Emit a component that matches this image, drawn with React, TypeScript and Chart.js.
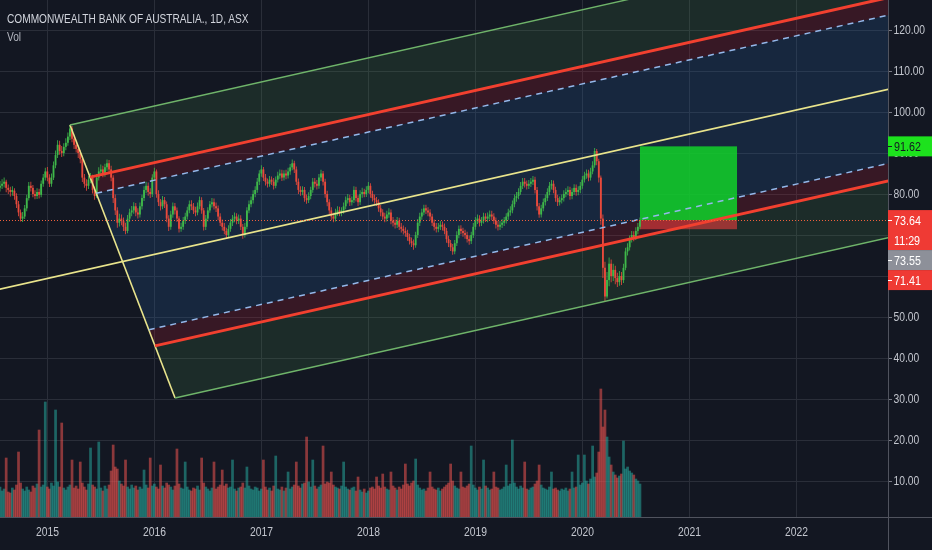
import React, { useEffect, useRef } from 'react';
import { Chart, registerables } from 'chart.js';

Chart.register(...registerables);

// ---------- text ----------
const TITLE = 'COMMONWEALTH BANK OF AUSTRALIA., 1D, ASX';
const VOL_LABEL = 'Vol';
const COUNTDOWN = '11:29';

// ---------- time base (weekly bars, decimal years) ----------
const FIRST_WEEK = 2014.556;
const WEEKS_PER_YEAR = 52;
const FIRST_OPEN = 81.5;

// ---------- weekly closes ----------
const close2014 = [82, 82.5, 83, 81.5, 81, 80.5, 80.8, 79.5, 77.5, 75.5, 74, 74.5, 76.5, 79, 82, 81.5, 80, 79.5, 80.5, 79.8, 82.5, 84, 85.5];
const close2015 = [84, 82.5, 84, 87, 89.5, 92, 90.5, 90, 91.5, 92.5, 94, 96, 93.5, 92, 91, 90, 88.5, 84, 82.5, 82, 83.5, 84, 81, 79.5, 84, 85.5, 86, 85, 86.5, 87.5, 86, 84, 79, 76, 73, 74, 73.5, 72, 71, 74, 75.5, 76, 77, 75.5, 75, 77, 79, 81, 82, 80.5, 80, 84];
const close2016 = [85.5, 80, 78, 77, 78.5, 77.5, 74, 72, 75, 77, 76, 74, 71.5, 72, 73.5, 74.5, 76, 77.5, 77, 76, 75.5, 77, 78.5, 76, 72, 74, 76, 77.5, 78, 77, 76.5, 74.5, 73, 72, 71, 70, 71.5, 73, 74, 74.5, 73.5, 74, 72, 70, 72, 76, 77.5, 78.5, 80, 81, 83, 85];
const close2017 = [86, 84, 83, 82.5, 83.5, 83, 82, 83.5, 84.5, 85, 84, 85, 84.5, 85.5, 86.5, 87.5, 86, 83, 81, 80.5, 81, 79, 78.5, 79.5, 81, 83, 82.5, 82, 84, 85, 83, 80, 78, 76, 74.5, 74, 75.5, 76, 75.5, 76, 77, 78.5, 79, 78, 78.5, 81, 79, 78, 80, 80.5, 80, 81];
const close2018 = [82, 80, 79, 78.5, 78, 76.5, 75.5, 74.5, 74, 75, 75.5, 73.5, 73, 72.5, 73.5, 72, 71.5, 71, 70.5, 69.5, 68.5, 68, 67.5, 70, 73, 74.5, 75.5, 76.5, 76, 75.5, 74.5, 73, 72, 71.5, 72, 72.5, 72, 71, 69, 68, 67, 66, 68, 70, 71.5, 71, 70.5, 70, 69, 68.5, 70, 72];
const close2019 = [73.5, 74, 73, 73.5, 74.5, 74, 74.5, 75, 74.5, 73.5, 72.5, 72, 72.5, 73, 73.5, 74.5, 75.5, 76, 77.5, 79, 79.5, 80.5, 82, 83, 82.5, 82, 82.5, 83, 83.5, 81, 77, 75, 76.5, 78, 79, 80.5, 82, 82.5, 81, 79, 78, 78.5, 79, 80, 80.5, 81, 79.5, 80.5, 81.5, 80.5, 81, 82];
const close2020 = [83.5, 84.5, 85, 84, 85.5, 87, 90.5, 88, 84, 74, 62, 55, 59, 63, 60, 61.5, 59.5, 58.5, 60, 59, 62, 66, 67, 69, 70, 69.5, 71, 72, 73.64];

// ---------- weekly highs / lows ----------
const hi2014 = [83.2, 83.6, 84.0, 83.5, 82.3, 81.8, 81.9, 81.4, 80.2, 78.3, 76.2, 75.6, 77.3, 79.8, 82.9, 83.0, 82.2, 80.9, 81.4, 81.3, 83.3, 84.9, 86.4];
const lo2014 = [80.6, 81.2, 81.6, 80.4, 80.0, 79.4, 79.6, 78.6, 76.6, 74.6, 73.3, 73.2, 73.9, 75.8, 78.4, 80.6, 79.2, 78.7, 78.8, 78.9, 79.2, 81.8, 83.3];
const hi2015 = [86.6, 84.8, 85.0, 87.9, 90.6, 93.1, 93.0, 91.7, 92.4, 93.6, 95.0, 96.9, 96.6, 94.3, 93.0, 91.9, 90.7, 89.2, 84.9, 83.6, 84.4, 85.1, 84.7, 81.8, 84.9, 86.5, 87.2, 86.9, 87.4, 88.4, 88.3, 86.9, 84.6, 79.9, 76.8, 75.2, 75.0, 74.3, 73.0, 74.9, 76.4, 77.1, 78.0, 77.8, 76.5, 77.9, 79.8, 81.9, 83.0, 82.8, 81.4, 84.8];
const lo2015 = [83.1, 81.7, 81.8, 83.4, 86.3, 88.8, 89.6, 89.0, 89.2, 90.7, 91.8, 93.2, 92.6, 91.0, 90.1, 88.8, 87.5, 82.9, 81.5, 80.8, 81.2, 82.6, 80.1, 78.6, 79.0, 83.3, 84.6, 84.1, 84.2, 85.7, 85.0, 83.1, 77.8, 74.9, 71.8, 72.1, 72.4, 71.0, 70.2, 70.4, 73.2, 74.6, 75.2, 74.6, 74.0, 74.3, 76.2, 78.3, 80.2, 79.6, 79.0, 79.3];
const hi2016 = [86.4, 86.0, 80.9, 78.8, 79.5, 79.3, 78.2, 74.8, 75.9, 77.9, 77.8, 76.7, 74.6, 73.0, 74.4, 75.4, 76.9, 78.4, 78.5, 77.8, 76.9, 77.9, 79.4, 79.2, 76.6, 74.9, 76.8, 78.3, 79.0, 78.9, 77.9, 77.2, 75.3, 73.8, 72.9, 71.8, 72.4, 73.9, 74.9, 75.5, 75.3, 75.0, 74.8, 72.7, 72.9, 76.8, 78.4, 79.4, 80.9, 81.9, 83.9, 85.8];
const lo2016 = [83.3, 79.1, 77.1, 76.0, 76.3, 76.6, 73.1, 71.0, 71.3, 74.2, 75.0, 73.2, 70.6, 70.8, 71.3, 72.7, 73.8, 75.3, 76.1, 75.1, 74.6, 74.8, 76.3, 75.2, 71.1, 71.2, 73.3, 75.4, 76.7, 76.2, 75.6, 73.6, 72.2, 71.1, 70.2, 69.2, 69.3, 70.8, 72.2, 73.1, 72.6, 72.7, 71.2, 69.1, 69.4, 71.4, 75.3, 76.8, 77.7, 79.2, 80.3, 82.2];
const hi2017 = [87.0, 86.6, 84.9, 83.8, 84.4, 84.3, 83.9, 84.3, 85.4, 86.0, 85.9, 85.8, 85.9, 86.4, 87.3, 88.4, 88.1, 86.7, 83.8, 81.9, 81.9, 81.7, 79.9, 80.4, 81.8, 83.9, 83.9, 83.4, 84.9, 85.9, 85.6, 83.7, 80.8, 78.7, 76.8, 75.4, 76.4, 77.0, 76.9, 76.8, 77.9, 79.4, 80.0, 79.8, 79.4, 81.9, 81.8, 79.7, 80.9, 81.5, 81.3, 81.9];
const lo2017 = [84.2, 83.2, 82.1, 81.6, 81.8, 82.2, 81.1, 81.4, 82.8, 83.7, 83.2, 83.3, 83.6, 83.8, 84.7, 85.8, 85.1, 82.2, 80.0, 79.6, 79.7, 78.1, 77.6, 77.8, 78.7, 80.3, 81.6, 81.1, 81.3, 83.2, 82.1, 79.1, 77.0, 75.1, 73.6, 73.1, 73.3, 74.7, 74.6, 74.6, 75.2, 76.3, 77.7, 77.1, 77.2, 77.8, 78.2, 77.1, 77.3, 79.1, 79.2, 79.3];
const hi2018 = [82.9, 82.6, 80.8, 79.9, 79.3, 78.7, 77.3, 76.3, 75.4, 75.9, 76.5, 76.2, 74.4, 73.8, 74.4, 74.2, 72.9, 72.3, 71.9, 71.3, 70.3, 69.4, 68.9, 70.8, 73.9, 75.4, 76.4, 77.4, 77.4, 76.8, 76.3, 75.2, 73.8, 72.9, 72.9, 73.4, 73.3, 72.8, 71.7, 69.8, 68.8, 67.8, 68.8, 70.9, 72.3, 72.4, 71.8, 71.3, 70.8, 69.9, 70.8, 72.9];
const lo2018 = [80.2, 79.1, 78.2, 77.6, 77.1, 75.7, 74.6, 73.7, 73.1, 73.3, 74.2, 72.6, 72.1, 71.6, 71.7, 71.2, 70.6, 70.1, 69.6, 68.6, 67.7, 67.1, 66.4, 66.9, 69.3, 72.2, 73.7, 74.8, 75.1, 74.6, 73.6, 72.2, 71.1, 70.6, 70.7, 71.2, 71.1, 70.2, 68.1, 67.1, 66.1, 65.2, 65.3, 67.3, 69.2, 70.2, 69.6, 69.1, 68.2, 67.6, 67.8, 69.3];
const hi2019 = [74.4, 75.0, 74.8, 74.4, 75.4, 75.3, 75.5, 76.0, 75.9, 75.3, 74.3, 73.4, 73.4, 73.9, 74.4, 75.3, 76.4, 77.0, 78.4, 79.9, 80.5, 81.4, 82.9, 83.9, 83.9, 83.3, 83.4, 83.9, 84.4, 84.2, 81.7, 77.8, 77.4, 78.9, 79.9, 81.4, 82.9, 83.4, 83.3, 81.8, 79.8, 79.4, 79.9, 80.9, 81.4, 81.9, 81.8, 81.4, 82.4, 82.3, 81.9, 82.9];
const lo2019 = [71.3, 72.7, 72.1, 72.2, 72.8, 73.2, 73.1, 73.7, 73.6, 72.7, 71.6, 71.1, 71.2, 71.7, 72.2, 72.8, 73.7, 74.7, 75.3, 76.8, 78.1, 78.7, 79.8, 81.2, 81.6, 81.1, 81.2, 81.7, 82.2, 80.1, 76.0, 74.2, 74.3, 75.8, 77.2, 78.3, 79.7, 81.1, 80.2, 78.1, 77.1, 77.2, 77.7, 78.2, 79.2, 79.7, 78.6, 78.7, 79.8, 79.6, 79.7, 80.2];
const hi2020 = [84.4, 85.4, 86.0, 85.9, 86.4, 88.0, 91.2, 91.0, 88.6, 84.5, 75.0, 63.5, 61.0, 64.5, 64.0, 63.0, 62.5, 60.8, 61.2, 61.0, 63.0, 66.9, 68.0, 69.9, 71.0, 70.9, 71.9, 72.9, 74.3];
const lo2020 = [81.3, 82.8, 83.7, 83.1, 83.3, 84.8, 86.4, 87.0, 82.8, 72.5, 59.5, 53.7, 54.5, 57.5, 58.5, 58.8, 58.0, 57.3, 57.6, 57.8, 58.3, 61.4, 65.0, 66.2, 68.2, 68.5, 68.8, 70.2, 71.4];

// ---------- weekly volume (millions) ----------
const vol2014 = [3.0, 2.6, 2.8, 5.9, 2.5, 2.4, 2.9, 2.7, 3.2, 6.5, 3.4, 2.8, 2.6, 3.0, 2.7, 2.5, 3.1, 2.9, 3.3, 8.7, 3.0, 3.2, 11.5];
const vol2015 = [3.0, 2.8, 3.4, 3.1, 10.7, 3.5, 3.0, 9.4, 2.9, 2.7, 3.0, 3.2, 5.7, 2.9, 3.1, 2.8, 5.5, 3.4, 3.0, 2.7, 3.3, 6.9, 3.2, 3.0, 2.8, 7.5, 2.9, 2.6, 3.1, 2.8, 3.2, 4.6, 7.2, 5.0, 4.8, 3.6, 3.3, 3.1, 5.7, 3.0, 2.8, 3.2, 2.9, 3.1, 2.7, 3.0, 2.8, 4.7, 3.2, 2.9, 5.9, 3.1];
const vol2016 = [3.3, 3.0, 2.8, 5.2, 3.1, 2.9, 3.4, 3.2, 3.0, 2.7, 3.1, 6.8, 3.3, 2.9, 2.8, 5.5, 3.0, 2.7, 2.6, 2.9, 2.8, 3.1, 2.7, 5.9, 3.4, 3.0, 2.8, 2.6, 2.9, 5.5, 2.8, 3.0, 3.2, 4.7, 3.1, 3.3, 2.9, 3.0, 5.7, 2.8, 2.6, 2.9, 3.0, 3.4, 2.9, 5.0, 3.1, 2.8, 2.7, 3.0, 2.9, 2.6];
const vol2017 = [2.8, 5.7, 3.0, 2.7, 2.9, 2.6, 3.1, 6.1, 2.8, 2.7, 3.0, 2.6, 2.9, 4.5, 2.8, 3.0, 3.2, 5.5, 3.1, 2.9, 3.3, 3.4, 8.0, 3.5, 3.0, 5.7, 3.1, 2.8, 3.0, 3.2, 7.1, 3.3, 3.5, 3.4, 4.5, 3.2, 3.0, 2.9, 2.8, 3.1, 5.5, 3.0, 2.8, 2.7, 2.9, 3.0, 2.6, 4.0, 2.7, 2.5, 2.8, 2.4];
const vol2018 = [2.6, 2.9, 3.0, 2.8, 4.0, 3.1, 2.9, 4.3, 3.0, 2.8, 2.7, 4.5, 3.1, 2.9, 2.7, 3.0, 2.8, 3.2, 5.3, 3.3, 3.1, 3.4, 3.6, 5.8, 3.2, 2.9, 2.7, 2.8, 2.6, 2.9, 4.5, 3.0, 2.8, 2.7, 2.9, 2.6, 2.8, 3.0, 3.2, 3.4, 5.3, 3.6, 3.1, 2.9, 2.8, 4.5, 3.0, 2.9, 3.1, 3.3, 7.1, 3.2];
const vol2019 = [2.9, 2.7, 3.0, 2.8, 5.7, 3.1, 2.9, 2.7, 2.8, 4.5, 3.0, 2.9, 2.7, 2.8, 3.0, 5.2, 3.1, 3.3, 7.7, 3.4, 3.0, 2.8, 3.1, 2.9, 5.5, 2.8, 2.7, 2.9, 3.0, 3.3, 3.6, 5.2, 3.2, 2.9, 2.8, 2.7, 3.0, 4.5, 2.8, 2.9, 2.7, 2.6, 2.8, 2.7, 2.9, 2.6, 2.8, 4.5, 2.9, 3.0, 6.2, 3.2];
const vol2020 = [3.4, 6.2, 3.6, 3.3, 3.8, 7.1, 4.0, 4.4, 6.5, 12.8, 9.0, 10.7, 8.0, 6.0, 5.2, 4.5, 4.2, 3.9, 4.1, 4.3, 7.6, 4.8, 5.0, 4.6, 4.4, 4.2, 3.8, 3.6, 3.3];

// ---------- axes ----------
const YEAR_TICKS = [2015, 2016, 2017, 2018, 2019, 2020, 2021, 2022];
const PRICE_TICKS = [10, 20, 30, 40, 50, 60, 70, 80, 90, 100, 110, 120];
const X_MIN = 2014.556;
const X_MAX = 2022.855;
const Y_MIN = 1.22;
const Y_MAX = 127.32;
const VOL_MAX = 51.7;

// ---------- drawings (anchor points in year / price) ----------
const PF_A = { x: 2015.21, y: 96.83 };
const PF_B = { x: 2016.192, y: 30.24 };
const PF_SLOPE = 5.87; // price per year
const PF_MEDIAN_FROM = 2013.8;
const PF_EXTEND_TO = 2023.6;

const POSITION = { start: 2020.537, end: 2021.444, entry: 73.64, target: 91.62, stop: 71.41 };
const LAST_PRICE = 73.64;
const PRICE_LABELS = [
  { value: 91.62, text: '91.62', bg: '#1de21d', fg: '#131722' },
  { value: 73.64, text: '73.64', bg: '#ef3a34', fg: '#ffffff', sub: COUNTDOWN },
  { value: 73.55, text: '73.55', bg: '#8d9099', fg: '#ffffff' },
  { value: 71.41, text: '71.41', bg: '#ef3a34', fg: '#ffffff' },
];

// ---------- styles ----------
const BG = '#131722';
const GRID = '#2a2e39';
const TEXT = '#c3c6ce';
const FONT_FAMILY = "'Liberation Sans', Arial, sans-serif";
const AXIS_SQUEEZE = 0.86;
const TITLE_SQUEEZE = 0.78;
const UP = '#3fb84a';
const DOWN = '#e84a3c';
const VOL_UP = 'rgba(38,166,154,0.55)';
const VOL_DOWN = 'rgba(239,83,80,0.55)';

const closes = [...close2014, ...close2015, ...close2016, ...close2017, ...close2018, ...close2019, ...close2020];
const highs = [...hi2014, ...hi2015, ...hi2016, ...hi2017, ...hi2018, ...hi2019, ...hi2020];
const lows = [...lo2014, ...lo2015, ...lo2016, ...lo2017, ...lo2018, ...lo2019, ...lo2020];
const volumes = [...vol2014, ...vol2015, ...vol2016, ...vol2017, ...vol2018, ...vol2019, ...vol2020];

function pfMid() {
  return { x: (PF_A.x + PF_B.x) / 2, y: (PF_A.y + PF_B.y) / 2 };
}
function pfStart(f: number) {
  const m = pfMid();
  return { x: m.x + f * (PF_A.x - m.x), y: m.y + f * (PF_A.y - m.y) };
}
function pfAt(p: { x: number; y: number }, x: number) {
  return { x, y: p.y + PF_SLOPE * (x - p.x) };
}

function squeezedText(ctx: CanvasRenderingContext2D, text: string, x: number, y: number, align: CanvasTextAlign) {
  ctx.save();
  ctx.translate(x, y);
  ctx.scale(AXIS_SQUEEZE, 1);
  ctx.textAlign = align;
  ctx.fillText(text, 0, 0);
  ctx.restore();
}

export default function App() {
  const ref = useRef<HTMLCanvasElement | null>(null);

  useEffect(() => {
    if (!ref.current) return;
    const opens = closes.map((c, i) => (i === 0 ? FIRST_OPEN : closes[i - 1]));
    const xs = closes.map((_, i) => FIRST_WEEK + i / WEEKS_PER_YEAR);
    const isUp = closes.map((c, i) => c >= opens[i]);

    const bodyData = closes.map((c, i) => ({ x: xs[i], y: [opens[i], c] }));
    const wickData = closes.map((c, i) => ({
      x: xs[i],
      y: [Math.min(lows[i] ?? c, opens[i], c), Math.max(highs[i] ?? c, opens[i], c)],
    }));
    const volData = volumes.map((v, i) => ({ x: xs[i], y: v }));
    const candleColors = isUp.map((u) => (u ? UP : DOWN));

    const lineDs = (pts: { x: number; y: number }[], color: string, width: number, dash: number[] = []) => ({
      type: 'line' as const,
      data: pts,
      borderColor: color,
      borderWidth: width,
      borderDash: dash,
      pointRadius: 0,
      fill: false,
      tension: 0,
      order: 0,
      yAxisID: 'y',
    });

    const lines: any[] = [];
    const levelStyle: Record<string, [string, number, number[]]> = {
      '1': ['#6fb46a', 1.4, []],
      '0.618': ['#f2402f', 3, []],
      '0.5': ['#94b8ea', 1.5, [6, 5]],
    };
    [1, 0.618, 0.5, -0.5, -0.618, -1].forEach((f) => {
      const s = pfStart(f);
      const [c, w, d] = levelStyle[String(Math.abs(f))];
      lines.push(lineDs([s, pfAt(s, PF_EXTEND_TO)], c, w, d));
    });
    const m = pfMid();
    lines.push(lineDs([pfAt(m, PF_MEDIAN_FROM), pfAt(m, PF_EXTEND_TO)], '#e9e48c', 1.6));
    lines.push(lineDs([PF_A, PF_B], '#e9e48c', 1.6));

    const fillPlugin = {
      id: 'pfFill',
      beforeDatasetsDraw(chart: any) {
        const { ctx, chartArea, scales } = chart;
        const sx = scales.x, sy = scales.y;
        ctx.save();
        ctx.beginPath();
        ctx.rect(chartArea.left, chartArea.top, chartArea.right - chartArea.left, chartArea.bottom - chartArea.top);
        ctx.clip();
        const regions: [number, number, string][] = [
          [1, 0.618, 'rgba(76,150,80,0.17)'],
          [0.618, 0.5, 'rgba(200,30,50,0.2)'],
          [0.5, -0.5, 'rgba(41,98,165,0.22)'],
          [-0.5, -0.618, 'rgba(200,30,50,0.2)'],
          [-0.618, -1, 'rgba(76,150,80,0.17)'],
        ];
        regions.forEach(([f1, f2, col]) => {
          const a = pfStart(f1), b = pfStart(f2);
          const ae = pfAt(a, PF_EXTEND_TO), be = pfAt(b, PF_EXTEND_TO);
          ctx.beginPath();
          ctx.moveTo(sx.getPixelForValue(a.x), sy.getPixelForValue(a.y));
          ctx.lineTo(sx.getPixelForValue(ae.x), sy.getPixelForValue(ae.y));
          ctx.lineTo(sx.getPixelForValue(be.x), sy.getPixelForValue(be.y));
          ctx.lineTo(sx.getPixelForValue(b.x), sy.getPixelForValue(b.y));
          ctx.closePath();
          ctx.fillStyle = col;
          ctx.fill();
        });
        // long position tool
        const x1 = sx.getPixelForValue(POSITION.start), x2 = sx.getPixelForValue(POSITION.end);
        const yt = sy.getPixelForValue(POSITION.target), ye = sy.getPixelForValue(POSITION.entry), ys = sy.getPixelForValue(POSITION.stop);
        ctx.fillStyle = 'rgba(18,205,42,0.88)';
        ctx.fillRect(x1, yt, x2 - x1, ye - yt);
        ctx.fillStyle = 'rgba(235,60,60,0.6)';
        ctx.fillRect(x1, ye, x2 - x1, ys - ye);
        ctx.restore();
      },
      afterDatasetsDraw(chart: any) {
        const { ctx, chartArea, scales } = chart;
        const y = Math.round(scales.y.getPixelForValue(LAST_PRICE)) + 0.5;
        ctx.save();
        ctx.strokeStyle = '#f0603c';
        ctx.lineWidth = 1;
        ctx.setLineDash([1, 2]);
        ctx.beginPath();
        ctx.moveTo(chartArea.left, y);
        ctx.lineTo(chartArea.right, y);
        ctx.stroke();
        ctx.restore();
      },
    };

    const bgPlugin = {
      id: 'bg',
      beforeDraw(chart: any) {
        const { ctx, width, height } = chart;
        ctx.save();
        ctx.fillStyle = BG;
        ctx.fillRect(0, 0, width, height);
        ctx.restore();
      },
    };

    const axisPlugin = {
      id: 'axisLabels',
      afterDraw(chart: any) {
        const { ctx, chartArea, width, height, scales } = chart;
        ctx.save();
        ctx.strokeStyle = '#50535e';
        ctx.lineWidth = 1;
        ctx.beginPath();
        ctx.moveTo(Math.round(chartArea.right) + 0.5, 0);
        ctx.lineTo(Math.round(chartArea.right) + 0.5, height);
        ctx.moveTo(0, Math.round(chartArea.bottom) + 0.5);
        ctx.lineTo(width, Math.round(chartArea.bottom) + 0.5);
        ctx.stroke();

        // tick labels from the chart's scales
        ctx.font = `12px ${FONT_FAMILY}`;
        ctx.fillStyle = TEXT;
        ctx.textBaseline = 'middle';
        scales.y.ticks.forEach((t: any) => {
          squeezedText(ctx, Number(t.value).toFixed(2), chartArea.right + 5.5, scales.y.getPixelForValue(t.value) + 0.5, 'left');
        });
        scales.x.ticks.forEach((t: any) => {
          squeezedText(ctx, String(t.value), scales.x.getPixelForValue(t.value), chartArea.bottom + 16, 'center');
        });

        // price labels on the scale
        const boxH = 20;
        const sorted = [...PRICE_LABELS].sort((a, b) => b.value - a.value);
        let prevBottom = -Infinity;
        ctx.font = `12.5px ${FONT_FAMILY}`;
        sorted.forEach((lab) => {
          const yc = scales.y.getPixelForValue(lab.value);
          const top = Math.max(yc - boxH / 2, prevBottom);
          const h = lab.sub ? boxH * 2 : boxH;
          const left = chartArea.right;
          ctx.fillStyle = lab.bg;
          ctx.fillRect(left, top, width - left, h);
          ctx.fillStyle = lab.fg;
          squeezedText(ctx, lab.text, left + 6, top + boxH / 2 + 1, 'left');
          ctx.strokeStyle = lab.fg;
          ctx.beginPath();
          ctx.moveTo(left, Math.round(top + boxH / 2) + 0.5);
          ctx.lineTo(left + 4, Math.round(top + boxH / 2) + 0.5);
          ctx.stroke();
          if (lab.sub) squeezedText(ctx, lab.sub, left + 6, top + boxH * 1.5 + 1, 'left');
          prevBottom = top + h;
        });
        ctx.restore();
      },
    };

    const zeroPad = (s: any) => {
      s.paddingTop = 0;
      s.paddingBottom = 0;
      s.paddingLeft = 0;
      s.paddingRight = 0;
    };

    const chart = new Chart(ref.current, {
      type: 'bar',
      data: {
        datasets: [
          ...lines,
          {
            type: 'bar',
            data: bodyData as any,
            backgroundColor: candleColors,
            grouped: false,
            barPercentage: 0.9,
            categoryPercentage: 1,
            minBarLength: 2,
            order: 5,
            yAxisID: 'y',
          },
          {
            type: 'bar',
            data: wickData as any,
            backgroundColor: candleColors,
            grouped: false,
            barPercentage: 0.4,
            categoryPercentage: 1,
            order: 6,
            yAxisID: 'y',
          },
          {
            type: 'bar',
            data: volData as any,
            backgroundColor: isUp.map((u) => (u ? VOL_UP : VOL_DOWN)),
            grouped: false,
            barPercentage: 1,
            categoryPercentage: 1,
            order: 10,
            yAxisID: 'yv',
          },
        ],
      },
      options: {
        animation: false,
        responsive: false,
        maintainAspectRatio: false,
        events: [],
        layout: { padding: 0, autoPadding: false } as any,
        plugins: { legend: { display: false }, tooltip: { enabled: false }, title: { display: false } },
        scales: {
          x: {
            type: 'linear',
            min: X_MIN,
            max: X_MAX,
            offset: false,
            grid: { color: GRID, drawTicks: false, offset: false },
            border: { display: false },
            ticks: { display: false },
            afterBuildTicks: (s: any) => {
              s.ticks = YEAR_TICKS.map((v) => ({ value: v }));
            },
            afterFit: (s: any) => {
              s.height = 33;
              zeroPad(s);
            },
          },
          y: {
            type: 'linear',
            position: 'right',
            min: Y_MIN,
            max: Y_MAX,
            grid: { color: GRID, drawTicks: true, tickLength: 4, tickColor: '#787b86' },
            border: { display: false },
            ticks: { display: false },
            afterBuildTicks: (s: any) => {
              s.ticks = PRICE_TICKS.map((v) => ({ value: v }));
            },
            afterFit: (s: any) => {
              s.width = 44;
              zeroPad(s);
            },
          },
          yv: { type: 'linear', display: false, min: 0, max: VOL_MAX },
        },
      },
      plugins: [bgPlugin, fillPlugin, axisPlugin],
    } as any);

    return () => chart.destroy();
  }, []);

  const textStyle: React.CSSProperties = {
    position: 'absolute',
    left: 7,
    fontFamily: FONT_FAMILY,
    fontSize: 13,
    lineHeight: '16px',
    whiteSpace: 'nowrap',
    transform: `scaleX(${TITLE_SQUEEZE})`,
    transformOrigin: 'left center',
  };

  return (
    <div style={{ position: 'fixed', left: 0, top: 0, width: 932, height: 550, background: BG, overflow: 'hidden' }}>
      <canvas ref={ref} width={932} height={550} style={{ width: 932, height: 550, display: 'block' }} />
      <div style={{ ...textStyle, top: 11, color: '#d1d4dc' }}>{TITLE}</div>
      <div style={{ ...textStyle, top: 29, color: '#b2b5be' }}>{VOL_LABEL}</div>
    </div>
  );
}
